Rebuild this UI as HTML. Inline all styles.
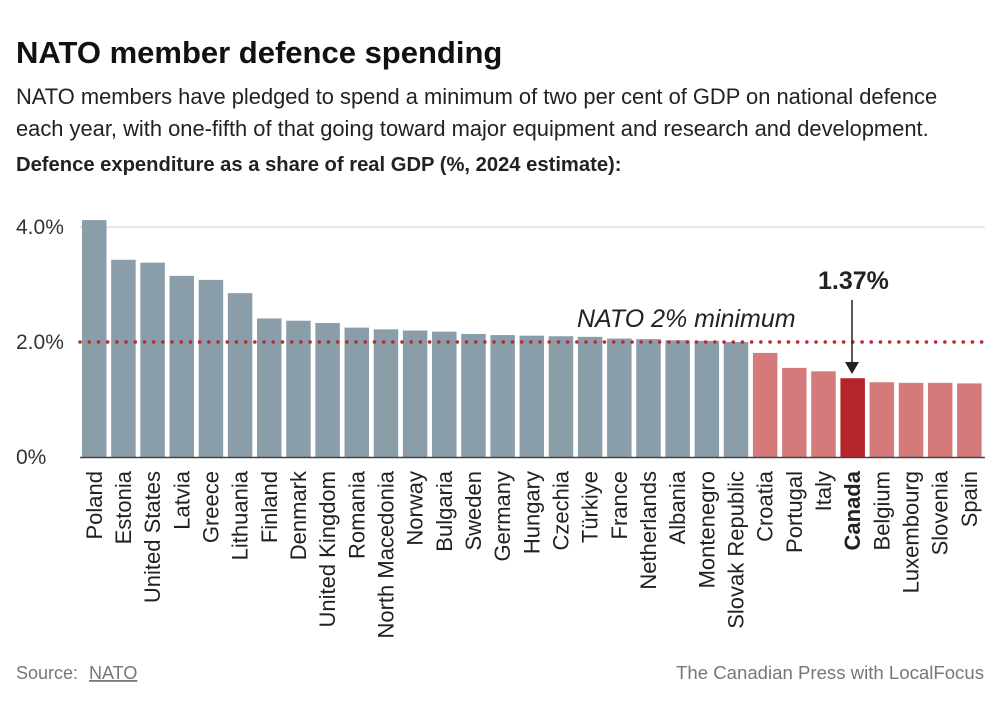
<!DOCTYPE html><html><head><meta charset="utf-8"><style>
body{margin:0;width:1000px;height:712px;background:#fff;font-family:"Liberation Sans",sans-serif;color:#222;overflow:hidden}
</style></head><body>
<svg width="1000" height="712" xmlns="http://www.w3.org/2000/svg" font-family="Liberation Sans, sans-serif">
<text x="16" y="63" font-size="31" font-weight="bold" fill="#111">NATO member defence spending</text>
<text x="16" y="104" font-size="21.9" fill="#222">NATO members have pledged to spend a minimum of two per cent of GDP on national defence</text>
<text x="16" y="136" font-size="21.9" fill="#222">each year, with one-fifth of that going toward major equipment and research and development.</text>
<text x="16" y="171" font-size="20.2" font-weight="bold" fill="#222">Defence expenditure as a share of real GDP (%, 2024 estimate):</text>
<line x1="80" y1="227" x2="985" y2="227" stroke="#ccc"/>
<text x="16" y="234" font-size="21" fill="#333">4.0%</text>
<text x="16" y="349" font-size="21" fill="#333">2.0%</text>
<text x="16" y="464" font-size="21" fill="#333">0%</text>
<g id="bars"></g>
<line x1="80" y1="342" x2="985" y2="342" stroke="#c0272d" stroke-width="3.5" stroke-dasharray="0.1 9.1" stroke-linecap="round"/>
<line x1="80" y1="457.5" x2="985" y2="457.5" stroke="#444" stroke-width="1.5"/>
<text x="577" y="327" font-size="25" font-style="italic" fill="#222">NATO 2% minimum</text>
<text x="818" y="289" font-size="25" font-weight="bold" fill="#222">1.37%</text>
<line x1="852" y1="300" x2="852" y2="366" stroke="#222" stroke-width="1.5"/>
<path d="M845 362 L852 374 L859 362 Z" fill="#222"/>
<g id="labels"></g>
<text x="16" y="679" font-size="18" fill="#777">Source:</text>
<text x="89" y="679" font-size="18" fill="#777" text-decoration="underline">NATO</text>
<text x="984" y="679" font-size="18.6" fill="#777" text-anchor="end">The Canadian Press with LocalFocus</text>
<script>
var d=[["Poland",4.12],["Estonia",3.43],["United States",3.38],["Latvia",3.15],["Greece",3.08],["Lithuania",2.85],["Finland",2.41],["Denmark",2.37],["United Kingdom",2.33],["Romania",2.25],["North Macedonia",2.22],["Norway",2.20],["Bulgaria",2.18],["Sweden",2.14],["Germany",2.12],["Hungary",2.11],["Czechia",2.10],["Türkiye",2.09],["France",2.06],["Netherlands",2.05],["Albania",2.03],["Montenegro",2.02],["Slovak Republic",2.00],["Croatia",1.81],["Portugal",1.55],["Italy",1.49],["Canada",1.37],["Belgium",1.30],["Luxembourg",1.29],["Slovenia",1.29],["Spain",1.28]];
var ns="http://www.w3.org/2000/svg",b=document.getElementById("bars"),l=document.getElementById("labels");
d.forEach(function(r,i){var x=82+i*29.17,h=r[1]*57.5;
var e=document.createElementNS(ns,"rect");e.setAttribute("x",x);e.setAttribute("y",457-h);e.setAttribute("width",24.5);e.setAttribute("height",h);
e.setAttribute("fill",r[0]=="Canada"?"#b5232b":(i>=23?"#d47a7a":"#899ea8"));b.appendChild(e);
var t=document.createElementNS(ns,"text");var cx=x+12.25+7.5;t.setAttribute("transform","translate("+cx+",471) rotate(-90)");
t.setAttribute("text-anchor","end");t.setAttribute("font-size","22");t.setAttribute("fill","#222");if(r[0]=="Canada")t.setAttribute("font-weight","bold");
t.textContent=r[0];l.appendChild(t);});
</script>
</svg></body></html>
